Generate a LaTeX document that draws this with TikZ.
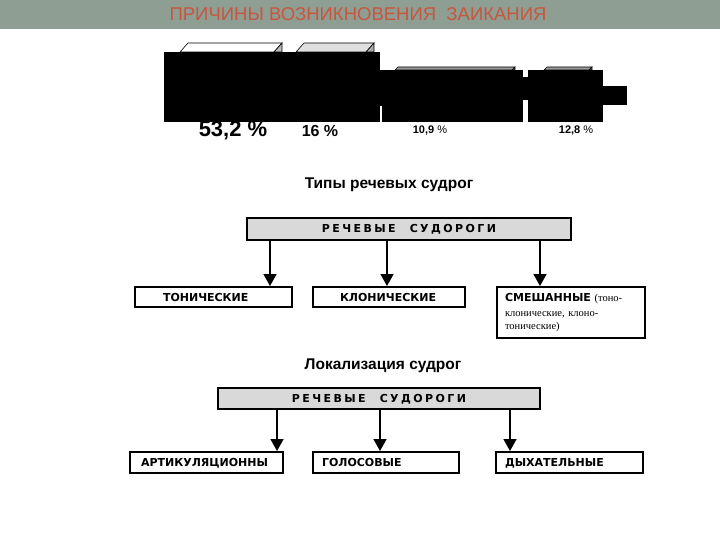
\documentclass[tikz,border=0pt]{standalone}
\usepackage{fontspec}
\setmainfont{Liberation Sans}
\newfontfamily\boxfont{DejaVu Sans}
\newfontfamily\spacedfont[LetterSpace=22]{DejaVu Sans}
\newfontfamily\seriffont{Liberation Serif}
\usetikzlibrary{arrows.meta}
\definecolor{band}{HTML}{8E9E93}
\definecolor{titlered}{HTML}{C8553E}
\definecolor{boxgray}{HTML}{D9D9D9}
\definecolor{topA}{HTML}{FFFFFF}
\definecolor{topB}{HTML}{E0E0E0}
\definecolor{topC}{HTML}{9C9C9C}
\definecolor{sideA}{HTML}{B8B8B8}
\definecolor{sideB}{HTML}{A8A8A8}
\definecolor{sideC}{HTML}{7C7C7C}
\begin{document}
\begin{tikzpicture}[x=1pt,y=-1pt,
  cbox/.style={draw=black, line width=2pt, fill=white, inner ysep=0pt, align=left,
    font=\boxfont\bfseries\fontsize{11}{13}\selectfont},
  onel/.style={text height=8pt, text depth=0pt},
  hbox/.style={draw=black, line width=2pt, fill=boxgray, inner sep=0pt,
    text height=8pt, text depth=0pt,
    font=\spacedfont\bfseries\fontsize{11}{13}\selectfont},
  arr/.style={line width=1.6pt, -{Triangle[width=13pt,length=12pt]}},
  sect/.style={font=\bfseries\fontsize{15.5}{18}\selectfont},
  topface/.style={draw=black, line width=0.6pt},
  blk/.style={fill=black, draw=none}]
\useasboundingbox (0,0) rectangle (720,540);
% header band
\fill[band] (0,0) rectangle (720,29);
\node[text=titlered, font=\fontsize{18.5}{20}\selectfont] (title) at (358,14) {ПРИЧИНЫ ВОЗНИКНОВЕНИЯ \ ЗАИКАНИЯ};
% bar tops (3D)
\filldraw[topface, fill=topA] (180,52) -- (188,43) -- (282,43) -- (274,52) -- cycle;
\filldraw[topface, fill=sideA] (274,52) -- (282,43) -- (282,52) -- cycle;
\filldraw[topface, fill=topB] (296,52) -- (304,43) -- (374,43) -- (366,52) -- cycle;
\filldraw[topface, fill=sideB] (366,52) -- (374,43) -- (374,52) -- cycle;
\filldraw[topface, fill=topC] (395,70) -- (398,67) -- (515,67) -- (512,70) -- cycle;
\filldraw[topface, fill=sideC] (512,70) -- (515,67) -- (515,70) -- cycle;
\filldraw[topface, fill=topC] (544,70) -- (547,67) -- (592,67) -- (589,70) -- cycle;
\filldraw[topface, fill=sideC] (589,70) -- (592,67) -- (592,70) -- cycle;
% bar labels
\node[font=\bfseries\fontsize{22}{24}\selectfont, inner sep=0pt] (v1) at (233,131) {53,2 \%};
\node[font=\bfseries\fontsize{16}{18}\selectfont, inner sep=0pt] (v2) at (320,131) {16 \%};
\node[font=\fontsize{11}{13}\selectfont, inner sep=0pt] (v3) at (430,131) {\textbf{10,9} \%};
\node[font=\fontsize{11}{13}\selectfont, inner sep=0pt] (v4) at (576,131) {\textbf{12,8} \%};
% black blocks
\fill[blk] (164,52) rectangle (380,122);
\fill[blk] (380,70) rectangle (382,106);
\fill[blk] (382,70) rectangle (523,122);
\fill[blk] (523,77) rectangle (528,100);
\fill[blk] (528,70) rectangle (603,122);
\fill[blk] (603,86) rectangle (627,105);
% section 1
\node[sect] (s1) at (389,185) {Типы речевых судрог};
\node[hbox, minimum width=324pt, minimum height=22pt] (sud1) at (409,229) {РЕЧЕВЫЕ\hspace{14pt}СУДОРОГИ};
\node[cbox, onel, minimum height=20pt, text width=101pt, inner xsep=28pt] (ton) at (213.5,297) {ТОНИЧЕСКИЕ};
\node[cbox, onel, minimum height=20pt, text width=98pt, inner xsep=27pt] (klon) at (389,297) {КЛОНИЧЕСКИЕ};
\node[cbox, minimum height=51pt, text width=132pt, inner xsep=8pt] (mix) at (571,312.5)
  {\fontsize{11}{15}\selectfont СМЕШАННЫЕ {\seriffont\mdseries\fontsize{10.5}{15}\selectfont (тоно-}\\
   {\seriffont\mdseries\fontsize{10.5}{15}\selectfont клонические, клоно-}\\
   {\seriffont\mdseries\fontsize{10.5}{15}\selectfont тонические)}};
\coordinate (p1) at (270,0);
\coordinate (p2) at (387,0);
\coordinate (p3) at (540,0);
\draw[arr] (sud1.south -| p1) -- (ton.north -| p1);
\draw[arr] (sud1.south -| p2) -- (klon.north -| p2);
\draw[arr] (sud1.south -| p3) -- (mix.north -| p3);
% section 2
\node[sect] (s2) at (383,366) {Локализация судрог};
\node[hbox, minimum width=322pt, minimum height=21pt] (sud2) at (379,398) {РЕЧЕВЫЕ\hspace{14pt}СУДОРОГИ};
\node[cbox, onel, minimum height=21pt, text width=131pt, inner xsep=11pt] (art) at (206.5,462.5) {АРТИКУЛЯЦИОННЫ};
\node[cbox, onel, minimum height=21pt, text width=128pt, inner xsep=9pt] (gol) at (386,462.5) {ГОЛОСОВЫЕ};
\node[cbox, onel, minimum height=21pt, text width=129pt, inner xsep=9pt] (dyh) at (569.5,462.5) {ДЫХАТЕЛЬНЫЕ};
\coordinate (q1) at (277,0);
\coordinate (q2) at (380,0);
\coordinate (q3) at (510,0);
\draw[arr] (sud2.south -| q1) -- (art.north -| q1);
\draw[arr] (sud2.south -| q2) -- (gol.north -| q2);
\draw[arr] (sud2.south -| q3) -- (dyh.north -| q3);
\end{tikzpicture}
\end{document}
